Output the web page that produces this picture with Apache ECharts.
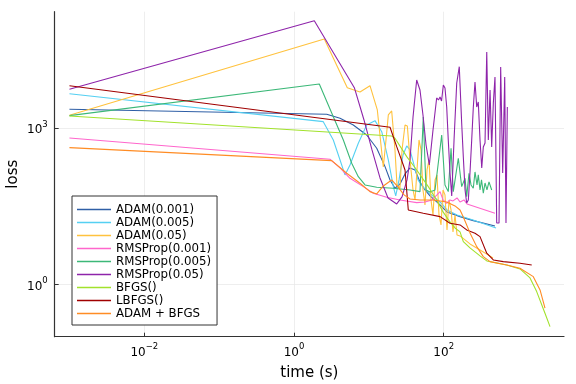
<!DOCTYPE html>
<html>
<head>
<meta charset="utf-8">
<script src="https://cdn.jsdelivr.net/npm/echarts@6/dist/echarts.min.js"></script>
<style>html,body{margin:0;padding:0;background:#fff}#c{width:576px;height:384px}</style>
</head>
<body>
<div id="c"></div>
<script>
// All values are log10 of time (s) and log10 of loss.
const seriesNames = ['ADAM(0.001)','ADAM(0.005)','ADAM(0.05)','RMSProp(0.001)','RMSProp(0.005)','RMSProp(0.05)','BFGS()','LBFGS()','ADAM + BFGS'];
const xTickExponents = [-2, 0, 2];
const yTickExponents = [0, 3];

const adam001LogTime = [-3.0,0.437,0.615,0.792,0.971,1.105,1.216,1.283,1.349,1.416,1.483,1.550,1.617,1.683,1.750,1.817,1.951,2.044,2.218,2.395,2.685];
const adam001LogLoss = [3.358,3.262,3.186,3.057,2.866,2.611,2.259,2.004,1.845,1.927,2.119,2.234,2.195,1.966,1.812,1.697,1.525,1.391,1.301,1.224,1.123];

const adam005LogTime = [-3.0,0.391,0.525,0.615,0.681,0.748,0.859,0.971,1.082,1.172,1.260,1.327,1.359,1.403,1.456,1.506,1.550,1.603,1.657,1.710,1.790,1.884,1.964,2.044,2.178,2.392,2.699];
const adam005LogLoss = [3.657,3.121,2.770,2.387,2.100,2.291,2.707,3.057,3.140,2.929,2.387,1.876,1.697,2.004,2.483,2.655,2.579,2.291,2.004,1.889,1.774,1.659,1.563,1.429,1.333,1.238,1.084];

const adam05LogTime = [-3.0,0.405,0.712,0.882,1.015,1.113,1.193,1.229,1.260,1.305,1.349,1.376,1.416,1.443,1.483,1.514,1.550,1.590,1.617,1.643,1.670,1.697,1.723,1.750,1.777,1.804,1.830,1.857,1.884,1.910,1.937,1.964,1.991,2.017,2.044,2.071,2.098,2.124,2.151,2.178,2.218,2.351,2.485,2.659];
const adam05LogLoss = [3.243,4.705,3.772,3.690,3.810,3.345,2.253,2.770,3.249,3.326,2.579,1.908,1.851,2.579,3.057,3.038,2.387,1.812,1.621,2.195,2.770,2.579,1.812,1.525,2.195,2.387,1.621,1.333,2.004,2.100,1.333,1.142,1.812,1.717,1.046,1.621,1.429,1.008,1.333,0.950,0.931,0.778,0.663,0.510];

const rms001LogTime = [-3.0,0.481,0.615,0.748,0.926,1.059,1.238,1.416,1.639,1.750,1.844,1.910,1.951,1.991,2.040,2.084,2.124,2.178,2.218,2.271,2.311,2.685];
const rms001LogLoss = [2.808,2.400,2.234,2.036,1.876,1.749,1.672,1.621,1.569,1.582,1.621,1.717,1.780,1.621,1.557,1.621,1.602,1.659,1.582,1.621,1.544,1.366];

const rms005LogTime = [-3.0,0.338,0.525,0.659,0.771,0.859,0.949,1.105,1.327,1.550,1.683,1.727,1.764,1.817,1.884,1.973,2.017,2.061,2.098,2.128,2.195,2.240,2.285,2.307,2.338,2.365,2.395,2.418,2.445,2.462,2.485,2.505,2.529,2.552,2.578,2.605,2.641];
const rms005LogLoss = [3.236,3.843,3.216,2.770,2.324,2.067,1.908,1.864,1.845,1.812,1.780,3.211,1.812,1.774,1.812,2.866,1.908,1.780,2.611,1.780,2.420,1.876,2.036,1.684,2.132,1.908,1.845,2.157,1.908,2.100,1.812,2.004,1.749,1.946,1.812,1.966,1.812];

const rms05LogTime = [-3.0,0.271,0.806,0.935,1.042,1.149,1.256,1.372,1.443,1.510,1.550,1.590,1.639,1.683,1.723,1.764,1.808,1.857,1.906,1.930,1.951,1.971,1.995,2.017,2.040,2.061,2.084,2.107,2.138,2.174,2.208,2.240,2.262,2.285,2.307,2.329,2.351,2.374,2.395,2.418,2.441,2.462,2.485,2.508,2.529,2.552,2.575,2.596,2.619,2.641,2.663,2.685,2.708,2.739,2.761,2.788,2.815,2.832,2.850];
const rms05LogLoss = [3.741,5.056,3.772,3.153,2.579,2.042,1.659,1.544,1.678,2.004,2.387,3.211,3.920,3.728,3.249,2.674,2.291,2.962,3.575,3.536,3.594,3.517,3.824,3.766,3.402,2.770,2.138,1.697,2.770,3.862,4.174,3.096,2.444,1.812,1.563,1.621,2.138,2.770,3.383,3.881,3.402,3.498,2.770,2.234,2.636,2.713,4.456,2.770,3.728,2.636,3.479,3.977,1.180,1.180,4.169,2.138,3.977,1.180,3.402];

const bfgsLogTime = [-3.0,1.305,1.349,1.506,1.639,1.794,1.906,1.991,2.084,2.151,2.218,2.262,2.351,2.485,2.575,2.842,3.019,3.153,3.242,3.353,3.420];
const bfgsLogLoss = [3.230,2.847,2.803,2.450,2.195,1.876,1.621,1.391,1.199,1.084,1.008,0.822,0.701,0.548,0.452,0.375,0.299,0.126,-0.136,-0.550,-0.806];

const lbfgsLogTime = [-3.0,1.283,1.372,1.460,1.483,1.527,1.727,1.951,2.084,2.218,2.307,2.418,2.485,2.575,2.663,2.796,3.019,3.176];
const lbfgsLogLoss = [3.810,3.013,2.642,2.291,2.195,1.429,1.366,1.301,1.174,1.142,1.046,0.983,0.918,0.600,0.471,0.439,0.408,0.375];

const adamBfgsLogTime = [-3.0,0.504,0.704,0.882,1.015,1.105,1.193,1.305,1.389,1.470,1.550,1.683,1.861,2.040,2.151,2.218,2.262,2.351,2.441,2.529,2.619,2.842,3.019,3.197,3.287,3.353];
const adamBfgsLogLoss = [2.623,2.374,2.132,1.941,1.780,1.736,1.889,2.004,1.870,1.717,1.640,1.621,1.621,1.582,1.506,1.429,1.295,0.989,0.726,0.535,0.439,0.375,0.312,0.151,-0.103,-0.454];

const seriesColors = ['#2f5fa6','#55d0f2','#ffc23e','#ff66cc','#3cb878','#8e24aa','#a2e22c','#a00000','#ff8c24'];

const allTimes = [adam001LogTime, adam005LogTime, adam05LogTime, rms001LogTime, rms005LogTime, rms05LogTime, bfgsLogTime, lbfgsLogTime, adamBfgsLogTime];
const allLosses = [adam001LogLoss, adam005LogLoss, adam05LogLoss, rms001LogLoss, rms005LogLoss, rms05LogLoss, bfgsLogLoss, lbfgsLogLoss, adamBfgsLogLoss];

const FONT = 'DejaVu Sans';
function powLabel(v) {
  const e = Math.round(v);
  const s = e < 0 ? '\u2212' + Math.abs(e) : String(e);
  return '{b|10}{s|' + s + '}';
}
const richLab = {
  b: { fontFamily: FONT, fontSize: 12, color: '#000', lineHeight: 16, verticalAlign: 'bottom' },
  s: { fontFamily: FONT, fontSize: 8.5, color: '#000', lineHeight: 16, verticalAlign: 'top' }
};

const chart = echarts.init(document.getElementById('c'), null, { renderer: 'canvas' });
chart.setOption({
  animation: false,
  backgroundColor: '#fff',
  grid: { left: 54.7, right: 12, top: 11.7, bottom: 47.3, containLabel: false, outerBoundsMode: 'none' },
  xAxis: {
    type: 'value', min: -3.197, max: 3.607,
    name: 'time (s)', nameLocation: 'middle', nameGap: 29, nameMoveOverlap: false,
    nameTextStyle: { fontFamily: FONT, fontSize: 15, color: '#000' },
    axisLine: { show: true, onZero: false, lineStyle: { color: '#333', width: 1.2 } },
    axisTick: { show: true, inside: true, length: 4, customValues: xTickExponents, lineStyle: { color: '#333', width: 1 } },
    axisLabel: { customValues: xTickExponents, formatter: powLabel, rich: richLab, margin: 6 },
    splitLine: { show: true, lineStyle: { color: '#e6e6e6', width: 0.7 } }
  },
  yAxis: {
    type: 'value', min: -1.0, max: 5.228,
    name: 'loss', nameLocation: 'middle', nameGap: 34, nameRotate: 90, nameMoveOverlap: false,
    nameTextStyle: { fontFamily: FONT, fontSize: 15, color: '#000' },
    axisLine: { show: true, onZero: false, lineStyle: { color: '#333', width: 1.2 } },
    axisTick: { show: true, inside: true, length: 4, customValues: yTickExponents, lineStyle: { color: '#333', width: 1 } },
    axisLabel: { customValues: yTickExponents, formatter: powLabel, rich: richLab, margin: 7 },
    splitLine: { show: true, lineStyle: { color: '#e6e6e6', width: 0.7 } }
  },
  legend: {
    orient: 'vertical', left: 72, top: 196,
    padding: [7, 6, 5, 5],
    icon: 'rect',
    itemWidth: 34, itemHeight: 1.5, itemGap: 0,
    backgroundColor: '#fff', borderColor: '#333', borderWidth: 1, borderRadius: 0,
    textStyle: { fontFamily: FONT, fontSize: 11.8, color: '#000', lineHeight: 13 },
    data: seriesNames.map((n, i) => ({
      name: n,
      itemStyle: { color: seriesColors[i], borderWidth: 0, opacity: 1 }
    }))
  },
  series: seriesNames.map((name, i) => ({
    name: name,
    type: 'line',
    symbol: 'none',
    smooth: false,
    color: seriesColors[i],
    itemStyle: { color: seriesColors[i] },
    lineStyle: { width: 1.1, color: seriesColors[i] },
    data: allTimes[i].map((t, k) => [t, allLosses[i][k]])
  }))
});
</script>
</body>
</html>
